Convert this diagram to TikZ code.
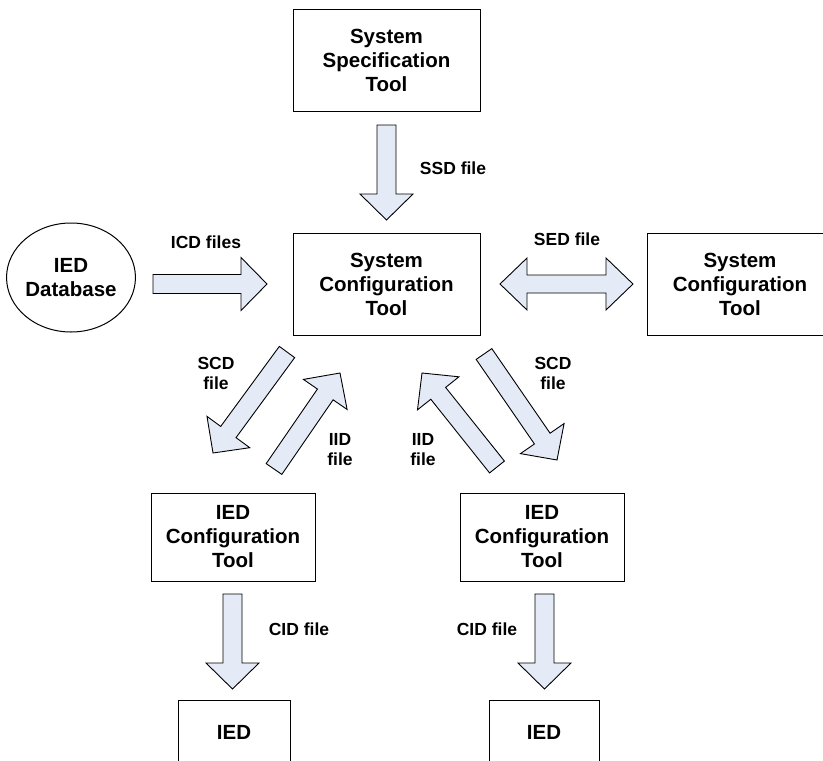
\documentclass[tikz,border=0pt]{standalone}
\usepackage{fontspec}
\setmainfont{Liberation Sans}
\usetikzlibrary{calc,shapes.geometric}

\definecolor{arrowfill}{RGB}{228,235,246}

\tikzset{
  toolbox/.style={draw=black, line width=1pt, fill=white, align=center,
    font=\fontsize{20.5}{24}\selectfont\bfseries, inner sep=0pt},
  flowlabel/.style={align=center, inner sep=0pt,
    font=\fontsize{17.5}{20}\selectfont\bfseries},
  blockarrow/.style={draw=black, line width=0.9pt, fill=arrowfill, line join=miter}
}

% single block arrow from tail #1 to tip #2
\newcommand\blockarr[2]{%
  \coordinate (ba-base) at ($(#2)!26pt!(#1)$);
  \draw[blockarrow]
    ($(#1)!9.5pt!90:(#2)$) -- ($(ba-base)!9.5pt!90:(#2)$)
    -- ($(ba-base)!26.5pt!90:(#2)$) -- (#2)
    -- ($(ba-base)!26.5pt!-90:(#2)$) -- ($(ba-base)!9.5pt!-90:(#2)$)
    -- ($(#1)!9.5pt!-90:(#2)$) -- cycle;}

% double-headed block arrow between tips #1 and #2
\newcommand\dblarr[2]{%
  \coordinate (da-a) at ($(#1)!27pt!(#2)$);
  \coordinate (da-b) at ($(#2)!27pt!(#1)$);
  \draw[blockarrow]
    (#1) -- ($(da-a)!26pt!90:(#2)$) -- ($(da-a)!9pt!90:(#2)$)
    -- ($(da-b)!9pt!-90:(#1)$) -- ($(da-b)!26pt!-90:(#1)$)
    -- (#2) -- ($(da-b)!26pt!90:(#1)$) -- ($(da-b)!9pt!90:(#1)$)
    -- ($(da-a)!9pt!-90:(#2)$) -- ($(da-a)!26pt!-90:(#2)$) -- cycle;}

\begin{document}
\begin{tikzpicture}[x=1pt, y=-1pt]
  \useasboundingbox (0,0) rectangle (823,761);
  \fill[white] (0,0) rectangle (823,761);
  \clip (0,0) rectangle (823,761);

  % tools
  \node[toolbox, minimum width=187pt, minimum height=102pt] (spec) at (386.5,60)
    {System\\Specification\\Tool};
  \node[toolbox, minimum width=187pt, minimum height=102pt] (sct) at (386.5,284)
    {System\\Configuration\\Tool};
  \node[toolbox, minimum width=186pt, minimum height=102pt] (sct2) at (740,284)
    {System\\Configuration\\Tool};
  \node[toolbox, ellipse, minimum width=117pt, minimum height=109pt] (db) at (71,277.5)
    {IED\\Database};
  \node[toolbox, minimum width=164pt, minimum height=88pt] (ict1) at (233,537)
    {IED\\Configuration\\Tool};
  \node[toolbox, minimum width=164pt, minimum height=88pt] (ict2) at (542,537)
    {IED\\Configuration\\Tool};
  \node[toolbox, minimum width=112pt, minimum height=64pt] (ied1) at (234,732) {IED};
  \node[toolbox, minimum width=110pt, minimum height=64pt] (ied2) at (544,732) {IED};

  % arrow ends
  \coordinate (ssd-t) at (386.5,125);  \coordinate (ssd-h) at (386.5,220);
  \coordinate (icd-t) at (153,284);    \coordinate (icd-h) at (267,284);
  \coordinate (sed-a) at (500,284);    \coordinate (sed-b) at (633,284);
  \coordinate (scd1-t) at (287,352);   \coordinate (scd1-h) at (213,453);
  \coordinate (iid1-t) at (274,469);   \coordinate (iid1-h) at (340,373);
  \coordinate (iid2-t) at (497,467);   \coordinate (iid2-h) at (422,373);
  \coordinate (scd2-t) at (484,354);   \coordinate (scd2-h) at (557,460);
  \coordinate (cid1-t) at (232.5,594); \coordinate (cid1-h) at (232.5,689);
  \coordinate (cid2-t) at (544.5,594); \coordinate (cid2-h) at (544.5,689);

  \blockarr{ssd-t}{ssd-h}
  \blockarr{icd-t}{icd-h}
  \dblarr{sed-a}{sed-b}
  \blockarr{scd1-t}{scd1-h}
  \blockarr{iid1-t}{iid1-h}
  \blockarr{iid2-t}{iid2-h}
  \blockarr{scd2-t}{scd2-h}
  \blockarr{cid1-t}{cid1-h}
  \blockarr{cid2-t}{cid2-h}

  % file labels
  \node[flowlabel] (l-ssd) at (453,168) {SSD file};
  \node[flowlabel] (l-icd) at (206,242) {ICD files};
  \node[flowlabel] (l-sed) at (567,239) {SED file};
  \node[flowlabel] (l-scd1) at (216,373) {SCD\\file};
  \node[flowlabel] (l-scd2) at (553,373) {SCD\\file};
  \node[flowlabel] (l-iid1) at (340,450) {IID\\file};
  \node[flowlabel] (l-iid2) at (423,450) {IID\\file};
  \node[flowlabel] (l-cid1) at (299,629) {CID file};
  \node[flowlabel] (l-cid2) at (487,629) {CID file};
\end{tikzpicture}
\end{document}
